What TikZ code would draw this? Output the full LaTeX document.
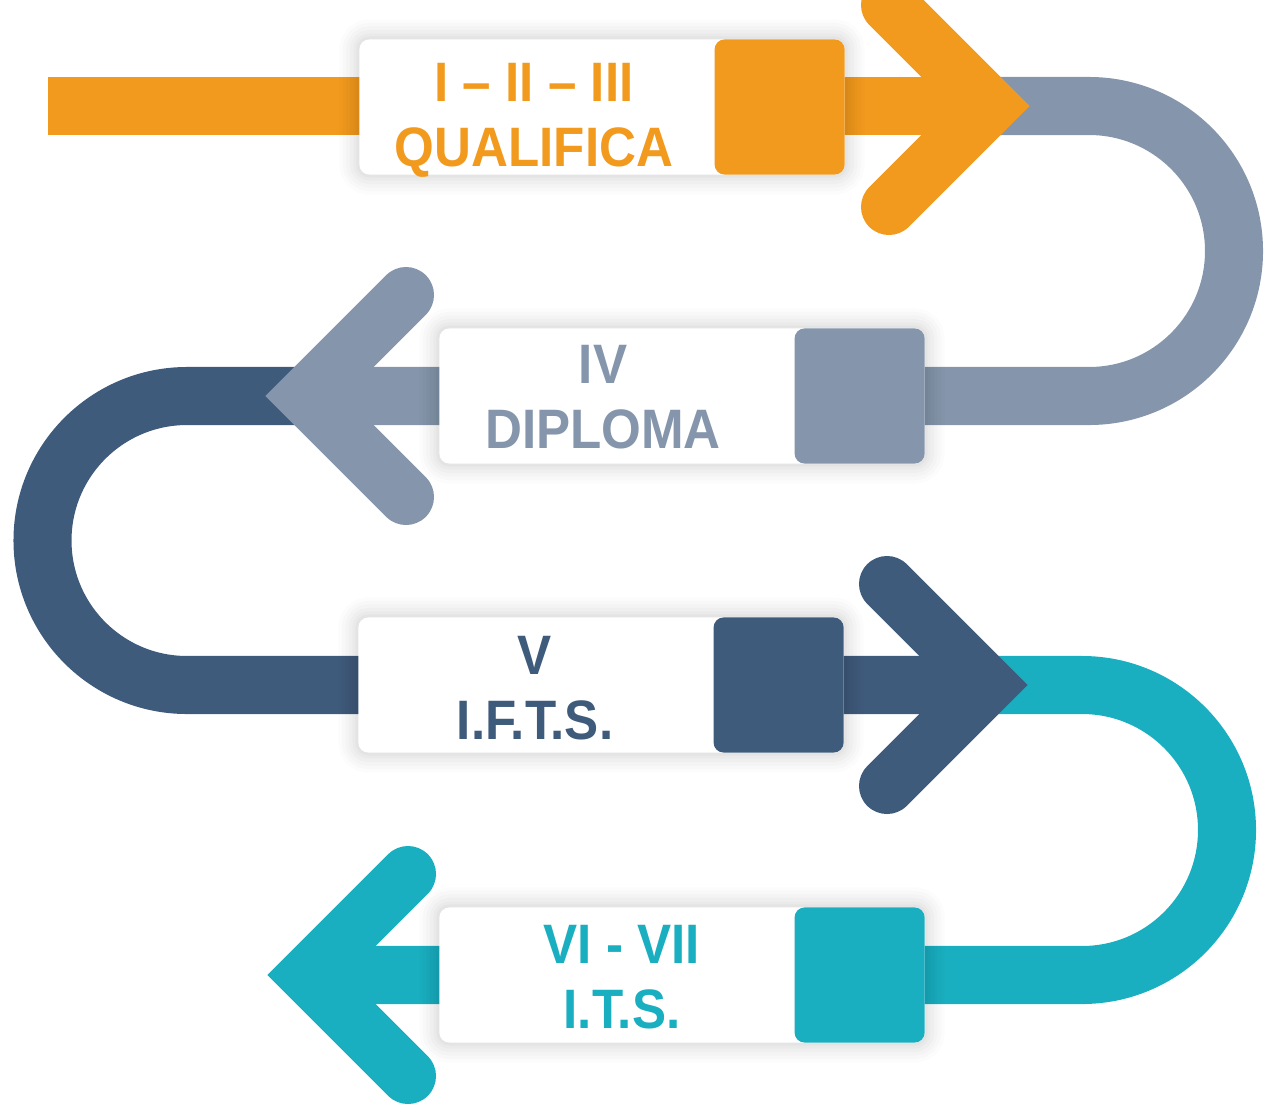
\documentclass[tikz,border=0pt]{standalone}
\usepackage{fontspec}
\newfontfamily\lvlfont{Liberation Sans}[FakeStretch=0.92]
\usetikzlibrary{calc,positioning}
\definecolor{lvlorange}{HTML}{F29A1E}
\definecolor{lvlgrey}{HTML}{8596AC}
\definecolor{lvlnavy}{HTML}{3F5B7B}
\definecolor{lvlteal}{HTML}{1AAFC0}

\begin{document}
\begin{tikzpicture}[x=0.01cm, y=-0.01cm,
  band/.style={line width=0.58cm},
  chevron/.style={line width=0.56cm, line cap=round, line join=miter},
  softshadow/.style={
    preaction={draw=black, draw opacity=0.012, line width=0.40cm},
    preaction={draw=black, draw opacity=0.014, line width=0.33cm},
    preaction={draw=black, draw opacity=0.016, line width=0.26cm},
    preaction={draw=black, draw opacity=0.018, line width=0.19cm},
    preaction={draw=black, draw opacity=0.02, line width=0.12cm},
    preaction={draw=black, draw opacity=0.025, line width=0.06cm}},
  card/.style={softshadow, fill=white, rounded corners=0.1cm,
    minimum width=4.85cm, minimum height=1.35cm, inner sep=0pt},
  tab/.style={rounded corners=0.1cm,
    minimum width=1.3cm, minimum height=1.35cm, inner sep=0pt},
  lvl/.style={font=\lvlfont\bfseries\fontsize{15.8}{18.5}\selectfont,
    align=center, inner sep=0pt}]
  \useasboundingbox (0,0) rectangle (1267,1109);
  \clip (0,0) rectangle (1267,1109);

  % arrow tips and loose end
  \coordinate (start) at (48,106);
  \coordinate (tip1) at (1030,106);
  \coordinate (tip2) at (265,396);
  \coordinate (tip3) at (1028,685);
  \coordinate (tip4) at (267,975);

  % bands and loops
  \draw[band, lvlorange] (start) -- ($(tip1)+(-40,0)$);
  \draw[band, lvlgrey] ($(tip1)+(-30,0)$) -- (1089,106)
    arc[start angle=-90, end angle=90, radius=145] -- ($(tip2)+(40,0)$);
  \draw[band, lvlnavy] ($(tip2)+(40,0)$) -- (187,396)
    arc[start angle=270, end angle=90, radius=144.5] -- ($(tip3)+(-40,0)$);
  \draw[band, lvlteal] ($(tip3)+(-40,0)$) -- (1082,685)
    arc[start angle=-90, end angle=90, radius=145] -- ($(tip4)+(40,0)$);

  % cards with coloured tabs
  \node[card] (c1) at (602,107) {};
  \node[tab, fill=lvlorange, anchor=east] (t1) at (c1.east) {};
  \node[card] (c2) at (682,396) {};
  \node[tab, fill=lvlgrey, anchor=east] (t2) at (c2.east) {};
  \node[card] (c3) at (601,685) {};
  \node[tab, fill=lvlnavy, anchor=east] (t3) at (c3.east) {};
  \node[card] (c4) at (682,975) {};
  \node[tab, fill=lvlteal, anchor=east] (t4) at (c4.east) {};

  % labels
  \node[lvl, lvlorange] (l1) at (534,120) {I – II – III\\QUALIFICA};
  \node[lvl, lvlgrey] (l2) at (603,397) {IV\\DIPLOMA};
  \node[lvl, lvlnavy] (l3) at (535,688) {V\\I.F.T.S.};
  \node[lvl, lvlteal] (l4) at (622,977) {VI - VII\\I.T.S.};

  % arrow heads
  \foreach \t/\s/\c in {tip1/1/lvlorange, tip2/-1/lvlgrey, tip3/1/lvlnavy, tip4/-1/lvlteal}
    \draw[chevron, \c] ($(\t)+(-141*\s,-101)$) -- ($(\t)+(-40*\s,0)$)
      -- ($(\t)+(-141*\s,101)$);
\end{tikzpicture}
\end{document}
